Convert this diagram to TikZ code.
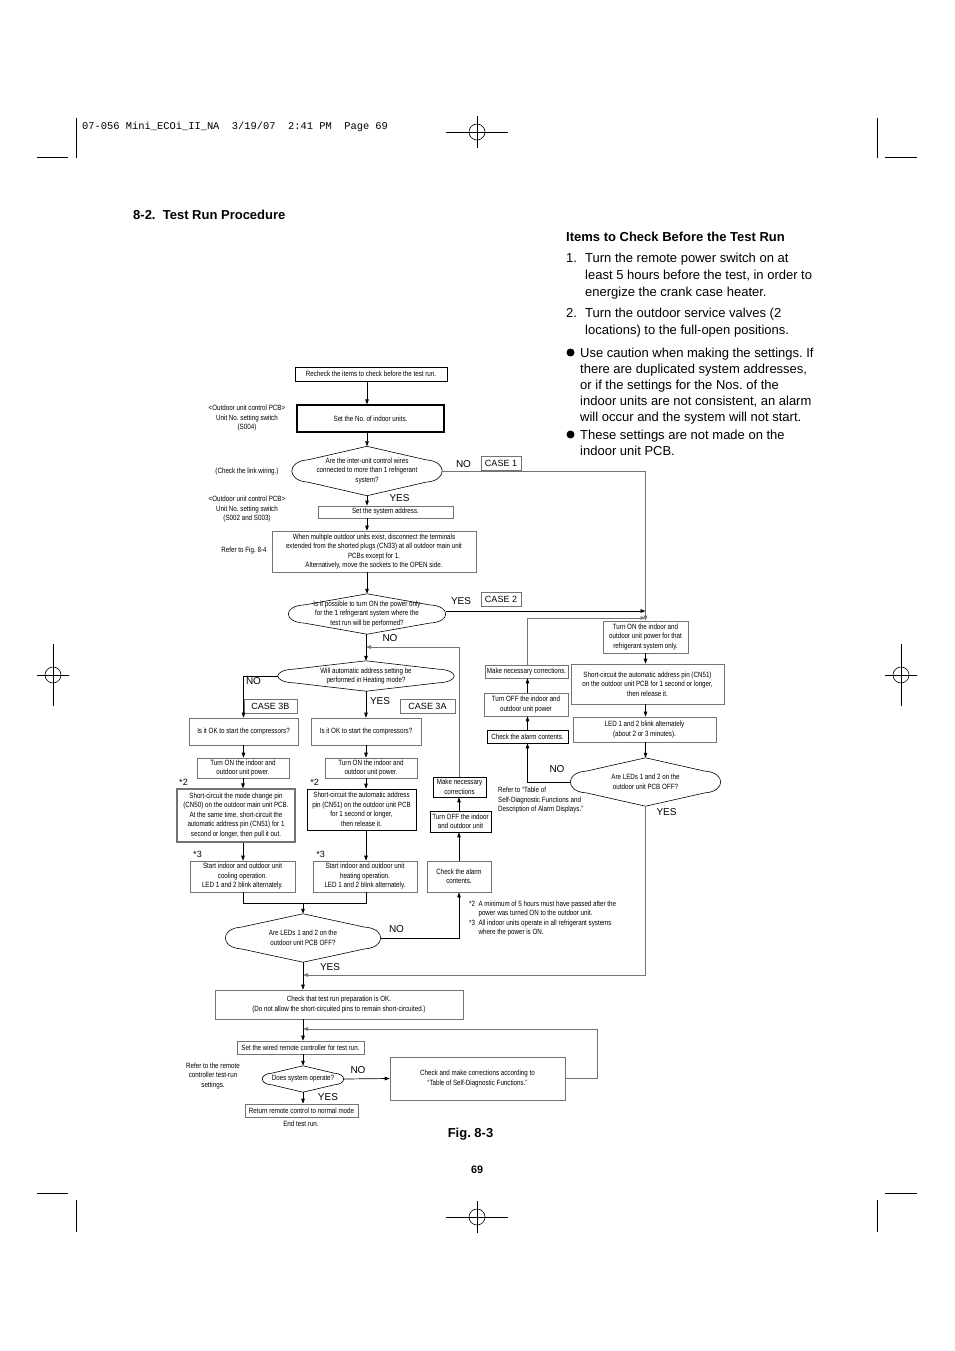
\documentclass[tikz,border=0pt]{standalone}
\usepackage{fontspec}
\setmainfont{Liberation Sans}
\newfontfamily\chartfont[FakeStretch=0.82]{Liberation Sans}
\newfontfamily\headfont{Liberation Mono}
\usetikzlibrary{arrows.meta,calc}
\frenchspacing

\newcommand\chartsize{\chartfont\fontsize{7.6}{9.5}\selectfont}
\colorlet{lgray}{black!55}

\tikzset{
  box/.style={draw, line width=0.6pt, inner sep=1pt, align=center, font=\chartsize},
  gbox/.style={box, draw=lgray},
  decision/.style={inner sep=0pt, align=center, font=\chartsize},
  note/.style={inner sep=0pt, align=center, font=\chartsize},
  lbl/.style={inner sep=0pt, font=\fontsize{10}{12}\selectfont},
  casebox/.style={draw=lgray, line width=0.7pt, inner sep=0pt, font=\fontsize{9}{11}\selectfont, minimum height=14pt},
  arr/.style={-{Triangle[length=5pt,width=3.5pt]}, line width=0.7pt},
  garr/.style={arr, draw=lgray},
  body/.style={inner sep=0pt, align=left, anchor=north west, font=\fontsize{13}{17}\selectfont},
  cropmark/.style={line width=0.6pt}
}

% outline of a decision node: name, inset of the rounded ends
\newcommand\decframe[2]{%
  \draw[line width=0.6pt] (#1.north)
    -- ($(#1.west)!0.45!(#1.north west)+(#2pt,0)$)
    .. controls ($(#1.west)!0.4!(#1.north west)+(-#2pt/3,0)$) and ($(#1.west)!0.4!(#1.south west)+(-#2pt/3,0)$) ..
    ($(#1.west)!0.45!(#1.south west)+(#2pt,0)$)
    -- (#1.south)
    -- ($(#1.east)!0.45!(#1.south east)+(-#2pt,0)$)
    .. controls ($(#1.east)!0.4!(#1.south east)+(#2pt/3,0)$) and ($(#1.east)!0.4!(#1.north east)+(#2pt/3,0)$) ..
    ($(#1.east)!0.45!(#1.north east)+(-#2pt,0)$)
    -- cycle;}

\begin{document}
\begin{tikzpicture}[x=1pt,y=-1pt]
  \fill[white] (0,0) rectangle (954,1351);
  \useasboundingbox (0,0) rectangle (954,1351);

  % page marks
  \draw[cropmark] (76,118) -- (76,158);
  \draw[cropmark] (37,157) -- (68,157);
  \draw[cropmark] (877,118) -- (877,158);
  \draw[cropmark] (885,157) -- (917,157);
  \draw[cropmark] (76,1200) -- (76,1232);
  \draw[cropmark] (37,1193) -- (68,1193);
  \draw[cropmark] (877,1200) -- (877,1232);
  \draw[cropmark] (885,1193) -- (917,1193);
  \foreach \mx/\my/\ma in {477/132/0, 477/1217/0, 53/675/90, 901/675/90} {
    \begin{scope}[shift={(\mx,\my)}, rotate=\ma]
      \draw[cropmark] (0,0) circle (8);
      \draw[cropmark] (-31,0) -- (31,0);
      \draw[cropmark] (0,-16) -- (0,16);
    \end{scope}
  }
  \node[inner sep=0pt, anchor=base west, font=\headfont\fontsize{10.4}{12}\selectfont] (slug) at (82,130)
    {07-056 Mini\_ECOi\_II\_NA\ \ 3/19/07\ \ 2:41 PM\ \ Page 69};

  % headings and check list
  \node[inner sep=0pt, anchor=base west, font=\bfseries\fontsize{13}{15}\selectfont] (title) at (133,219) {8-2.\ \ Test Run Procedure};
  \node[inner sep=0pt, anchor=base west, font=\bfseries\fontsize{13}{15}\selectfont] (items) at (566,241.5) {Items to Check Before the Test Run};
  \node[inner sep=0pt, anchor=base west, font=\fontsize{13}{17}\selectfont] (n1) at (566,262) {1.};
  \node[body] (item1) at (585,252.5) {Turn the remote power switch on at\\least 5 hours before the test, in order to\\energize the crank case heater.};
  \node[inner sep=0pt, anchor=base west, font=\fontsize{13}{17}\selectfont] (n2) at (566,317) {2.};
  \node[body] (item2) at (585,307.5) {Turn the outdoor service valves (2\\locations) to the full-open positions.};
  \fill (570.5,352.5) circle (4);
  \node[body, font=\fontsize{13}{16}\selectfont] (bul1) at (580,347.5) {Use caution when making the settings. If\\there are duplicated system addresses,\\or if the settings for the Nos. of the\\indoor units are not consistent, an alarm\\will occur and the system will not start.};
  \fill (570.5,434.5) circle (4);
  \node[body, font=\fontsize{13}{16}\selectfont] (bul2) at (580,429.5) {These settings are not made on the\\indoor unit PCB.};
  \node[inner sep=0pt, font=\bfseries\fontsize{13}{15}\selectfont] (fig) at (470.5,1134) {Fig. 8-3};
  \node[inner sep=0pt, font=\bfseries\fontsize{10.8}{13}\selectfont] (page) at (477,1170) {69};

  % main column
  \node[box, minimum width=152pt, minimum height=14pt] (recheck) at (371,374) {Recheck the items to check before the test run.};
  \node[box, line width=1.1pt, minimum width=147pt, minimum height=27pt] (nounits) at (370.5,418.5) {Set the No. of indoor units.};
  \node[decision, minimum width=150pt, minimum height=49pt] (wires) at (367,471) {Are the inter-unit control wires\\connected to more than 1 refrigerant\\system?};
  \decframe{wires}{16}
  \node[gbox, minimum width=135pt, minimum height=12pt] (sysaddr) at (385.5,512) {Set the system address.};
  \node[gbox, minimum width=204pt, minimum height=41pt] (plugs) at (374,551.5) {When multiple outdoor units exist, disconnect the terminals\\extended from the shorted plugs (CN33) at all outdoor main unit\\PCBs except for 1.\\Alternatively, move the sockets to the OPEN side.};
  \node[decision, minimum width=157pt, minimum height=40pt] (poweron) at (367,614) {Is it possible to turn ON the power only\\for the 1 refrigerant system where the\\test run will be performed?};
  \decframe{poweron}{16}
  \node[decision, minimum width=176pt, minimum height=30pt] (heating) at (366,676) {Will automatic address setting be\\performed in Heating mode?};
  \decframe{heating}{16}

  \node[note] (pcbA) at (247,418.5) {<Outdoor unit control PCB>\\Unit No. setting switch\\(S004)};
  \node[note] (link) at (247,472) {(Check the link wiring.)};
  \node[note] (pcbB) at (247,509.5) {<Outdoor unit control PCB>\\Unit No. setting switch\\(S002 and S003)};
  \node[note] (fig84) at (244,551) {Refer to Fig. 8-4};

  % case 3B
  \node[gbox, minimum width=109pt, minimum height=27pt] (okB) at (243.5,731.5) {Is it OK to start the compressors?};
  \node[gbox, minimum width=92pt, minimum height=20pt] (onB) at (243,768) {Turn ON the indoor and\\outdoor unit power.};
  \node[gbox, line width=1.2pt, minimum width=118pt, minimum height=53pt] (modepin) at (236,815.5) {Short-circuit the mode change pin\\(CN50) on the outdoor main unit PCB.\\At the same time, short-circuit the\\automatic address pin (CN51) for 1\\second or longer, then pull it out.};
  \node[gbox, minimum width=105pt, minimum height=31pt] (cool) at (242.5,876.5) {Start indoor and outdoor unit\\cooling operation.\\LED 1 and 2 blink alternately.};

  % case 3A
  \node[gbox, minimum width=110pt, minimum height=27pt] (okA) at (366,731.5) {Is it OK to start the compressors?};
  \node[gbox, minimum width=92pt, minimum height=20pt] (onA) at (371,768) {Turn ON the indoor and\\outdoor unit power.};
  \node[box, minimum width=109pt, minimum height=41pt] (addrpin) at (361.5,809.5) {Short-circuit the automatic address\\pin (CN51) on the outdoor unit PCB\\for 1 second or longer,\\then release it.};
  \node[gbox, minimum width=104pt, minimum height=31pt] (heat) at (365,876.5) {Start indoor and outdoor unit\\heating operation.\\LED 1 and 2 blink alternately.};

  \node[lbl, font=\fontsize{9}{11}\selectfont] (starB2) at (183.5,782) {*2};
  \node[lbl, font=\fontsize{9}{11}\selectfont] (starB3) at (197.5,854) {*3};
  \node[lbl, font=\fontsize{9}{11}\selectfont] (starA2) at (314.5,782) {*2};
  \node[lbl, font=\fontsize{9}{11}\selectfont] (starA3) at (320.5,854) {*3};

  \node[decision, minimum width=155pt, minimum height=48pt] (leds) at (303,938) {Are LEDs 1 and 2 on the\\outdoor unit PCB OFF?};
  \decframe{leds}{16}

  % alarm loop, middle
  \node[box, minimum width=53pt, minimum height=20pt] (fix1) at (459.5,787) {Make necessary\\corrections};
  \node[box, minimum width=61pt, minimum height=21pt] (off1) at (460.5,821.5) {Turn OFF the indoor\\and outdoor unit};
  \node[gbox, minimum width=64pt, minimum height=31pt] (alarm1) at (459,876.5) {Check the alarm\\contents.};

  % case 2 column
  \node[gbox, minimum width=85pt, minimum height=32pt] (thatsys) at (645.5,637) {Turn ON the indoor and\\outdoor unit power for that\\refrigerant system only.};
  \node[gbox, minimum width=153pt, minimum height=40pt] (pinR) at (647.5,684) {Short-circuit the automatic address pin (CN51)\\on the outdoor unit PCB for 1 second or longer,\\then release it.};
  \node[gbox, minimum width=143pt, minimum height=25pt] (blink) at (644.5,729.5) {LED 1 and 2 blink alternately\\(about 2 or 3 minutes).};
  \node[decision, minimum width=150pt, minimum height=48pt] (ledsR) at (645.5,782) {Are LEDs 1 and 2 on the\\outdoor unit PCB OFF?};
  \decframe{ledsR}{16}

  \node[gbox, minimum width=83pt, minimum height=13pt] (fix2) at (526.5,671.5) {Make necessary corrections.};
  \node[gbox, minimum width=84pt, minimum height=23pt] (off2) at (526,704.5) {Turn OFF the indoor and\\outdoor unit power};
  \node[box, minimum width=81pt, minimum height=13pt] (alarm2) at (527.5,736.5) {Check the alarm contents.};

  \node[note, align=left, anchor=west] (refer) at (498,800.5) {Refer to “Table of\\Self-Diagnostic Functions and\\Description of Alarm Displays.”};
  \node[note, align=left, anchor=west] (foot) at (469,918.5) {*2\ \ A minimum of 5 hours must have passed after the\\\hphantom{*2\ \ }power was turned ON to the outdoor unit.\\*3\ \ All indoor units operate in all refrigerant systems\\\hphantom{*3\ \ }where the power is ON.};

  % final steps
  \node[gbox, minimum width=248pt, minimum height=29pt] (prep) at (339,1004.5) {Check that test run preparation is OK.\\(Do not allow the short-circuited pins to remain short-circuited.)};
  \node[gbox, minimum width=127pt, minimum height=13pt] (wired) at (300.5,1047.5) {Set the wired remote controller for test run.};
  \node[decision, minimum width=81pt, minimum height=26pt] (operate) at (303,1079) {Does system operate?};
  \decframe{operate}{10}
  \node[gbox, minimum width=175pt, minimum height=43pt] (correct) at (477.5,1078.5) {Check and make corrections according to\\“Table of Self-Diagnostic Functions.”};
  \node[gbox, minimum width=113pt, minimum height=13pt] (normal) at (301.5,1110.5) {Return remote control to normal mode};
  \node[note] (endrun) at (301,1124) {End test run.};
  \node[note] (remote) at (213,1076) {Refer to the remote\\controller test-run\\settings.};

  % labels
  \node[lbl] (noA) at (463.5,464) {NO};
  \node[casebox, minimum width=40pt] (case1) at (501,463) {CASE 1};
  \node[lbl] (yesA) at (399.5,498) {YES};
  \node[lbl] (yesB) at (461,601) {YES};
  \node[casebox, minimum width=40pt] (case2) at (501,599.5) {CASE 2};
  \node[lbl] (noB) at (390,638) {NO};
  \node[lbl] (noC) at (253.5,681) {NO};
  \node[casebox, minimum width=53pt] (case3B) at (270.5,706) {CASE 3B};
  \node[lbl] (yesC) at (380,701) {YES};
  \node[casebox, minimum width=55pt] (case3A) at (427.5,706) {CASE 3A};
  \node[lbl] (noD) at (557,769) {NO};
  \node[lbl] (yesD) at (666.5,812) {YES};
  \node[lbl] (noE) at (396.5,929) {NO};
  \node[lbl] (yesE) at (330,967) {YES};
  \node[lbl] (noF) at (358,1070) {NO};
  \node[lbl] (yesF) at (328,1097) {YES};

  % junction points
  \coordinate (back1) at (366,647);
  \coordinate (back2) at (645.5,618);
  \coordinate (join) at (303,903);
  \coordinate (yesjoin) at (303,975);
  \coordinate (corner3) at (597,1029);
  \coordinate (back3) at (303,1029);

  % connectors
  \draw[arr] (recheck.south -| wires.north) -- (nounits.north -| wires.north);
  \draw[arr] (nounits.south -| wires.north) -- (wires.north);
  \draw[arr] (wires.south) -- (wires.south |- sysaddr.north);
  \draw[arr] (sysaddr.south -| wires.south) -- (plugs.north -| wires.south);
  \draw[arr] (plugs.south -| poweron.north) -- (poweron.north);
  \draw[garr] (wires.east) -| (thatsys.north);
  \draw[arr] ([yshift=3pt]poweron.east) -- ([yshift=3pt]poweron.east -| thatsys.north);
  \draw[arr] (poweron.south -| heating.north) -- (heating.north);
  \draw[arr] (heating.west) -| (okB.north);
  \draw[arr] (heating.south) -- (heating.south |- okA.north);

  \draw[arr] (okB.south) -- (okB.south |- onB.north);
  \draw[arr] (onB.south) -- (onB.south |- modepin.north);
  \draw[arr] (modepin.south -| onB.south) -- (cool.north -| onB.south);
  \draw[arr] (okA.south) -- (okA.south |- onA.north);
  \draw[arr] (onA.south -| okA.south) -- (addrpin.north -| okA.south);
  \draw[arr] (addrpin.south -| okA.south) -- (heat.north -| okA.south);
  \draw[line width=0.7pt] (cool.south -| onB.south) |- (join) -| (heat.south -| okA.south);
  \draw[arr] (join) -- (leds.north);

  \draw[arr] (leds.east) -| (alarm1.south);
  \draw[arr] (alarm1.north) -- (alarm1.north |- off1.south);
  \draw[arr] (off1.north -| alarm1.north) -- (fix1.south -| alarm1.north);
  \draw[garr] (fix1.north -| alarm1.north) |- (back1);

  \draw[arr] (thatsys.south) -- (thatsys.south |- pinR.north);
  \draw[arr] (pinR.south -| thatsys.south) -- (blink.north -| thatsys.south);
  \draw[arr] (blink.south -| thatsys.south) -- (ledsR.north);
  \draw[arr] (ledsR.west) -| (alarm2.south);
  \draw[arr] (alarm2.north) -- (alarm2.north |- off2.south);
  \draw[arr] (off2.north -| alarm2.north) -- (fix2.south -| alarm2.north);
  \draw[garr] (fix2.north -| alarm2.north) |- (back2);
  \draw[garr] (ledsR.south) |- (yesjoin);

  \draw[arr] (leds.south) -- (leds.south |- prep.north);
  \draw[arr] (prep.south -| leds.south) -- (wired.north -| leds.south);
  \draw[arr] (wired.south -| operate.north) -- (operate.north);
  \draw[arr] (operate.east) -- (correct.west);
  \draw[garr] (correct.east) -| (corner3) -- (back3);
  \draw[arr] (operate.south) -- (operate.south |- normal.north);
\end{tikzpicture}
\end{document}
